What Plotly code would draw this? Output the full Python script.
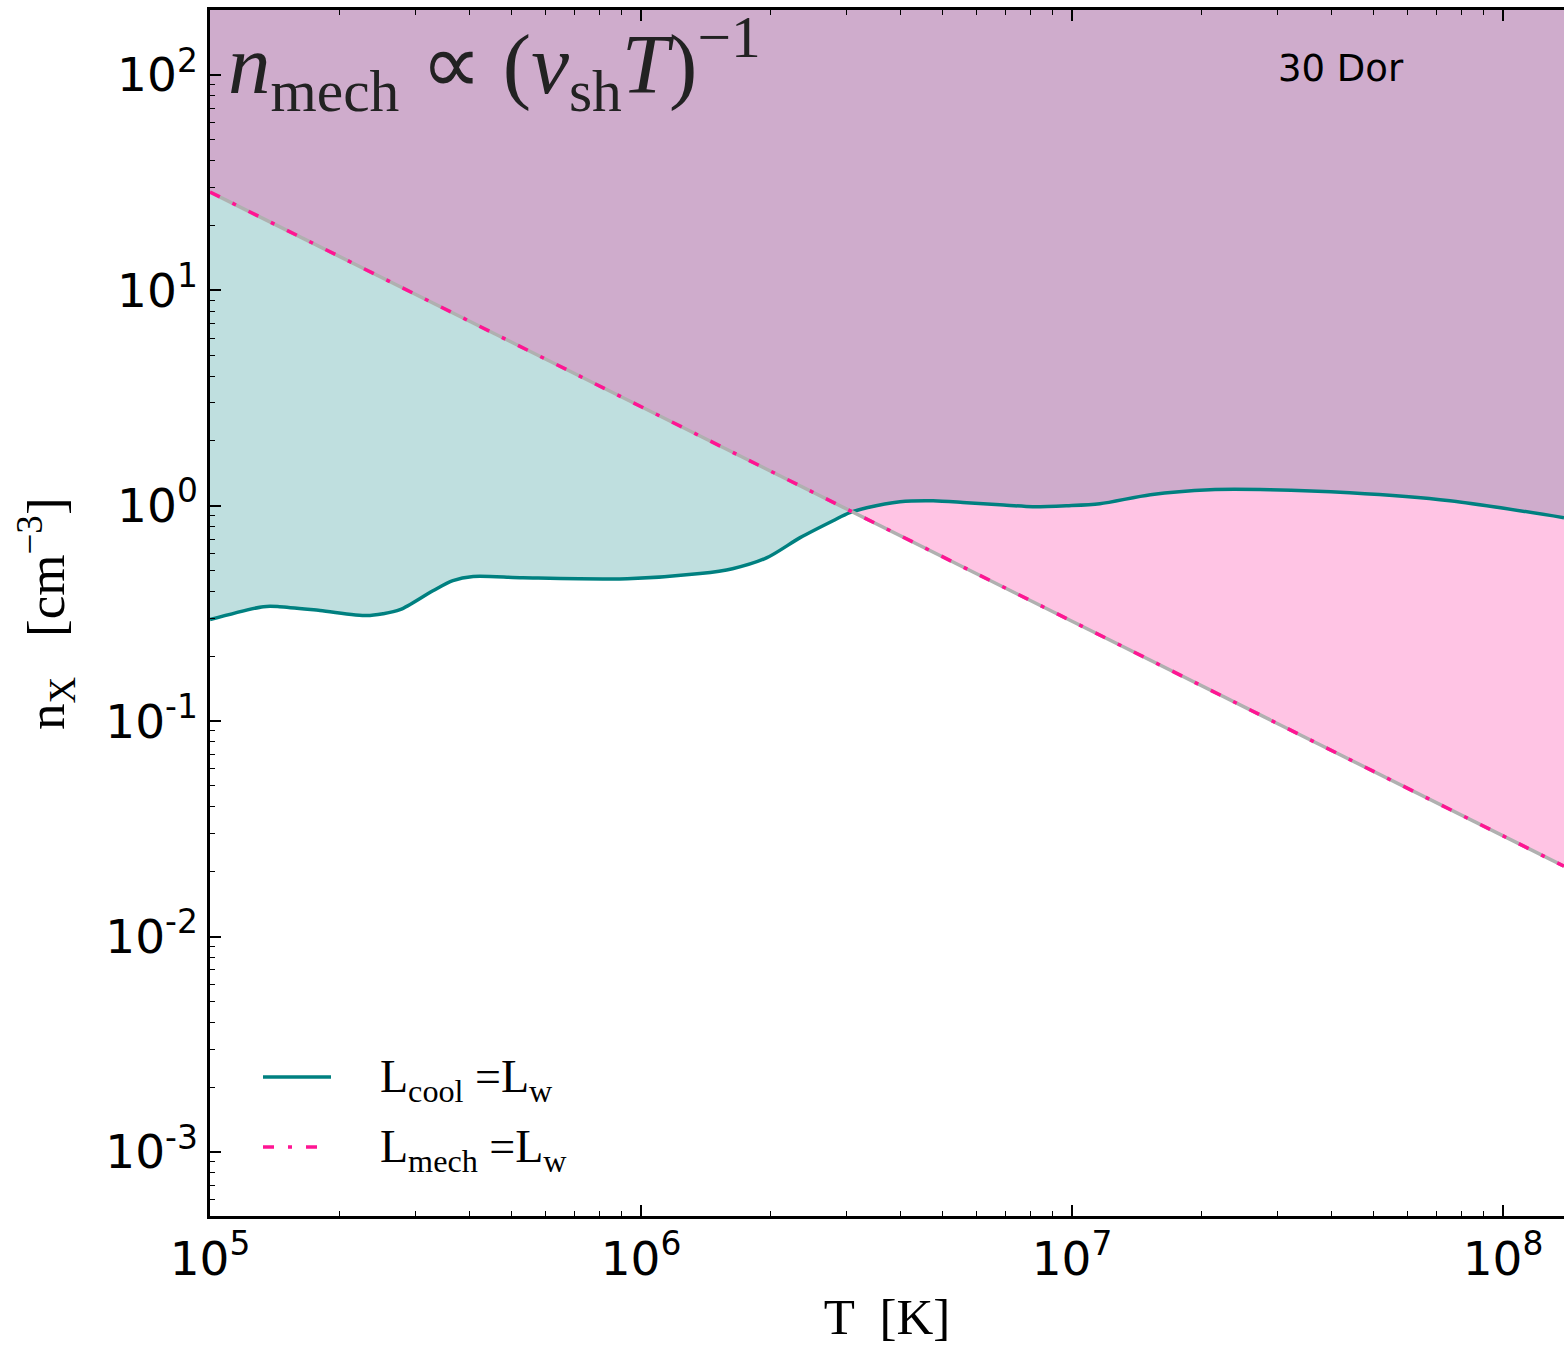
import numpy as np
import plotly.graph_objects as go

# ---- data ----
T_cool = [1.0e5, 1.33e5, 1.45e5, 1.80e5, 2.31e5, 2.52e5, 2.76e5, 3.29e5, 3.66e5, 4.08e5,
          5.32e5, 9.29e5, 1.37e6, 1.63e6, 1.96e6, 2.34e6, 2.79e6, 3.05e6, 3.34e6, 3.99e6,
          4.76e6, 5.70e6, 6.80e6, 8.11e6, 9.73e6, 1.16e7, 1.52e7, 2.09e7, 2.88e7, 4.41e7,
          7.53e7, 1.385e8]
n_cool = [0.296, 0.340, 0.340, 0.326, 0.309, 0.315, 0.329, 0.403, 0.449, 0.469,
          0.463, 0.458, 0.484, 0.510, 0.574, 0.711, 0.852, 0.928, 0.979, 1.044,
          1.055, 1.033, 1.011, 0.989, 1.000, 1.022, 1.125, 1.186, 1.186, 1.149,
          1.055, 0.880]
T_mech = [1.0e5, 1.385e8]
n_mech = [28.6, 0.0212]

x_exps = [5, 6, 7, 8]
y_exps = [-3, -2, -1, 0, 1, 2]
x_ticktext = ["10<sup>%d</sup>" % e for e in x_exps]
y_ticktext = ["10<sup>%d</sup>" % e for e in y_exps]

fill_top = 1.0e3  # fills extend beyond the top of the axes

x_range = [5, np.log10(1.385e8)]
y_range = [np.log10(5.04e-4), np.log10(200.2)]

TEAL = "#008080"
PINK = "#FF1493"

fig = go.Figure()

# teal region above cooling curve
fig.add_trace(go.Scatter(x=T_cool, y=[fill_top] * len(T_cool), mode="lines",
                         line=dict(width=0), hoverinfo="skip", showlegend=False))
fig.add_trace(go.Scatter(x=T_cool, y=n_cool, mode="lines", fill="tonexty",
                         fillcolor="rgba(0,128,128,0.25)",
                         line=dict(width=0, shape="spline", smoothing=0.8),
                         hoverinfo="skip", showlegend=False))
# pink region above mechanical line
fig.add_trace(go.Scatter(x=T_mech, y=[fill_top] * len(T_mech), mode="lines",
                         line=dict(width=0), hoverinfo="skip", showlegend=False))
fig.add_trace(go.Scatter(x=T_mech, y=n_mech, mode="lines", fill="tonexty",
                         fillcolor="rgba(255,20,147,0.25)",
                         line=dict(width=0), hoverinfo="skip", showlegend=False))

# lines
fig.add_trace(go.Scatter(x=T_cool, y=n_cool, mode="lines", name="L_cool = L_w",
                         line=dict(color=TEAL, width=3.5, shape="spline", smoothing=0.8),
                         showlegend=False))
fig.add_trace(go.Scatter(x=T_mech, y=n_mech, mode="lines",
                         line=dict(color="#b0b0b0", width=3.5),
                         hoverinfo="skip", showlegend=False))
fig.add_trace(go.Scatter(x=T_mech, y=n_mech, mode="lines", name="L_mech = L_w",
                         line=dict(color=PINK, width=3.5, dash="11px,14px,4px,14px"),
                         showlegend=False))


def minor_vals(exps):
    lo, hi = min(exps) - 1, max(exps) + 1
    return [k * 10.0 ** d for d in range(lo, hi + 1) for k in range(2, 10)]


axis_common = dict(
    type="log", showgrid=False, zeroline=False,
    showline=True, linecolor="black", linewidth=2.5,
    ticks="inside", ticklen=11, tickwidth=1.5, tickcolor="black",
    tickfont=dict(family="DejaVu Sans", size=47, color="black"),
    tickmode="array",
)

fig.update_xaxes(**axis_common, range=x_range, mirror="ticks",
                 tickvals=[10.0 ** e for e in x_exps], ticktext=x_ticktext,
                 minor=dict(ticks="inside", ticklen=5, tickwidth=1.2, tickcolor="black",
                            showgrid=False, tickmode="array", tickvals=minor_vals(x_exps)),
                 title=dict(text="T  [K]", font=dict(family="Liberation Serif", size=51, color="black"),
                            standoff=14))
fig.update_yaxes(**axis_common, range=y_range, mirror=False,
                 tickvals=[10.0 ** e for e in y_exps], ticktext=y_ticktext,
                 minor=dict(ticks="inside", ticklen=5, tickwidth=1.2, tickcolor="black",
                            showgrid=False, tickmode="array", tickvals=minor_vals(y_exps)))

PW = 1564 - 210
PH = 1216 - 10


def px(xp):
    return (xp - 210) / PW


def py(yp):
    return (1216 - yp) / PH


shapes = [
    dict(type="line", xref="paper", yref="paper", x0=px(263), x1=px(331), y0=py(1077), y1=py(1077),
         line=dict(color=TEAL, width=3.5)),
    dict(type="line", xref="paper", yref="paper", x0=px(263), x1=px(331), y0=py(1147), y1=py(1147),
         line=dict(color=PINK, width=3.5, dash="11px,14px,4px,14px")),
]

annotations = [
    dict(text="n<sub>X</sub>   [cm<sup>−3</sup>]", xref="paper", yref="paper",
         x=px(46), y=py(614), xanchor="center", yanchor="middle", textangle=-90,
         showarrow=False, font=dict(family="Liberation Serif", size=53, color="black")),
    dict(text="L<sub>cool</sub> =L<sub>w</sub>", xref="paper", yref="paper", x=px(378), y=py(1080),
         xanchor="left", yanchor="middle", showarrow=False,
         font=dict(family="Liberation Serif", size=46, color="black")),
    dict(text="L<sub>mech</sub> =L<sub>w</sub>", xref="paper", yref="paper", x=px(378), y=py(1150),
         xanchor="left", yanchor="middle", showarrow=False,
         font=dict(family="Liberation Serif", size=46, color="black")),
    dict(text="<i>n</i><sub>mech</sub> ∝ (<i>v</i><sub>sh</sub><i>T</i>)<sup>−1</sup>",
         xref="paper", yref="paper", x=px(226), y=py(2), xanchor="left", yanchor="top",
         showarrow=False, font=dict(family="Liberation Serif", size=85, color="#222222")),
    dict(text="30 Dor", xref="paper", yref="paper", x=px(1276), y=py(68),
         xanchor="left", yanchor="middle", showarrow=False,
         font=dict(family="DejaVu Sans", size=37, color="black")),
]

fig.update_layout(
    width=1564, height=1346,
    margin=dict(l=210, r=0, t=10, b=130),
    paper_bgcolor="white", plot_bgcolor="white",
    shapes=shapes, annotations=annotations, showlegend=False,
)

fig.write_html("out.html")
